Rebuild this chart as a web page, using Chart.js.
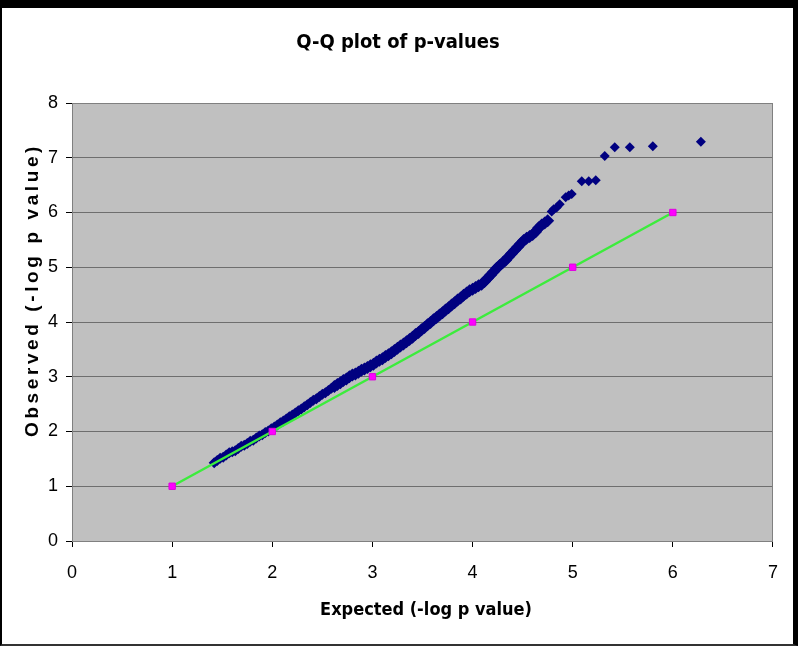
<!DOCTYPE html>
<html lang="en">
<head>
    <meta charset="UTF-8">
    <title>Q-Q plot of p-values</title>
    <script src="https://cdn.jsdelivr.net/npm/chart.js@4.4.0/dist/chart.umd.min.js"></script>
    <style>
        body{
            margin: 0;
            background: #ffffff;
        }
        .frame{
            width: 798px;
            height: 646px;
            box-sizing: border-box;
            border-top: 8px solid #000;
            border-left: 2px solid #000;
            border-right: 5px solid #000;
            border-bottom: 2px solid #333;
            background: #fff;
        }
        .chartCanvas{
            display: block;
            width: 791px !important;
            height: 636px !important;
        }
    </style>
</head>
<body>
    <div class="frame">
        <canvas id="qqchart" class="chartCanvas"></canvas>
    </div>
</body>
<script>
    // observed -log p values
    const obsX = [1.42,1.45,1.48,1.51,1.54,1.57,1.60,1.63,1.66,1.69,1.72,1.75,1.78,1.81,1.84,1.87,1.90,1.93,1.96,1.99,
                  2.02,2.05,2.08,2.11,2.14,2.17,2.20,2.23,2.26,2.29,2.32,2.35,2.38,2.41,2.44,2.47,2.50,2.53,2.56,2.59,
                  2.62,2.65,2.68,2.71,2.74,2.77,2.80,2.83,2.86,2.89,2.92,2.95,2.98,3.01,3.04,3.07,3.10,3.13,3.16,3.19,
                  3.22,3.25,3.28,3.31,3.34,3.37,3.40,3.43,3.46,3.49,3.52,3.55,3.58,3.61,3.64,3.67,3.70,3.73,3.76,3.79,
                  3.82,3.85,3.88,3.91,3.94,3.97,4.00,4.03,4.06,4.09,4.12,4.15,4.18,4.21,4.24,4.27,4.30,4.33,4.36,4.39,
                  4.42,4.45,4.48,4.51,4.54,4.57,4.60,4.63,4.66,4.69,4.72,4.75,4.79,4.81,4.84,4.87,4.93,4.96,4.99,5.09,
                  5.16,5.23,5.32,5.42,5.57,5.80,6.28];
    const obsY = [1.43,1.47,1.51,1.53,1.57,1.61,1.63,1.65,1.69,1.73,1.75,1.78,1.82,1.84,1.88,1.92,1.94,1.98,2.01,2.05,
                  2.08,2.12,2.16,2.19,2.23,2.27,2.30,2.34,2.38,2.41,2.45,2.49,2.53,2.57,2.60,2.64,2.68,2.71,2.75,2.79,
                  2.82,2.86,2.89,2.93,2.96,3.00,3.03,3.05,3.08,3.12,3.14,3.17,3.20,3.23,3.27,3.30,3.33,3.37,3.40,3.44,
                  3.48,3.52,3.56,3.60,3.64,3.68,3.72,3.77,3.81,3.86,3.90,3.95,3.99,4.04,4.08,4.13,4.17,4.22,4.26,4.31,
                  4.35,4.40,4.44,4.49,4.53,4.57,4.60,4.63,4.66,4.69,4.74,4.80,4.86,4.92,4.98,5.03,5.08,5.13,5.19,5.25,
                  5.31,5.37,5.43,5.49,5.53,5.56,5.60,5.65,5.72,5.77,5.81,5.85,6.02,6.06,6.09,6.15,6.28,6.31,6.34,6.57,
                  6.57,6.59,7.03,7.19,7.19,7.21,7.29];

    // expected line (y = x)
    const expX = [1, 2, 3, 4, 5, 6];
    const expY = [1, 2, 3, 4, 5, 6];

    const xTicks = [0, 1, 2, 3, 4, 5, 6, 7];
    const yTicks = [0, 1, 2, 3, 4, 5, 6, 7, 8];

    const chartTitle = 'Q-Q plot of p-values';
    const xTitle = 'Expected (-log p value)';
    const yTitle = 'Observed (-log p value)';

    // gray plot area, border and the three titles
    const decorPlugin = {
        id: 'decor',
        beforeDraw(chart) {
            const a = chart.chartArea;
            const ctx = chart.ctx;
            ctx.save();
            ctx.fillStyle = '#c0c0c0';
            ctx.fillRect(a.left, a.top, a.right - a.left, a.bottom - a.top);
            ctx.restore();
        },
        beforeDatasetsDraw(chart) {
            const a = chart.chartArea;
            const ctx = chart.ctx;
            ctx.save();
            ctx.strokeStyle = '#808080';
            ctx.lineWidth = 1;
            ctx.strokeRect(a.left + 0.5, a.top + 0.5, a.right - a.left - 1, a.bottom - a.top);
            ctx.restore();
        },
        afterDraw(chart) {
            const ctx = chart.ctx;
            ctx.save();
            ctx.fillStyle = '#000';
            ctx.textAlign = 'center';
            ctx.textBaseline = 'middle';
            ctx.font = 'bold 20px "DejaVu Sans Condensed"';
            ctx.fillText(chartTitle, 396, 35);
            ctx.font = 'bold 18px "DejaVu Sans Condensed"';
            ctx.fillText(xTitle, 424, 602);
            // y title, rotated and spaced out
            ctx.translate(31, 282);
            ctx.rotate(-Math.PI / 2);
            ctx.font = 'bold 19px "Liberation Sans"';
            ctx.letterSpacing = '3.6px';
            ctx.fillText(yTitle, 0, 0);
            ctx.restore();
        }
    };

    const config = {
        type: 'scatter',
        data: {
            datasets: [{
                label: 'Expected',
                data: expX.map((x, i) => ({ x: x, y: expY[i] })),
                showLine: true,
                borderColor: '#3cec3c',
                borderWidth: 2.5,
                pointStyle: 'rect',
                pointRadius: 4.5,
                pointBackgroundColor: '#ff00ff',
                pointBorderColor: '#e000e0',
                pointBorderWidth: 1
            }, {
                label: 'Observed',
                data: obsX.map((x, i) => ({ x: x, y: obsY[i] })),
                pointStyle: 'rectRot',
                // dense band drawn a bit fatter than the lone top points
                pointRadius: (c) => (c.raw && c.raw.x < 4.78 ? (c.raw.x < 2.6 ? 5.5 : 6.5) : 5),
                pointBackgroundColor: '#000080',
                pointBorderColor: '#000080',
                pointBorderWidth: 0
            }]
        },
        options: {
            responsive: false,
            animation: false,
            layout: { padding: { top: 95, right: 18, left: 0, bottom: 0 } },
            plugins: {
                legend: { display: false },
                tooltip: { enabled: false }
            },
            scales: {
                x: {
                    type: 'linear',
                    min: 0,
                    max: 7,
                    afterBuildTicks: (s) => { s.ticks = xTicks.map(v => ({ value: v })); },
                    afterFit: (s) => { s.height = 103; },
                    border: { color: '#000', width: 1 },
                    grid: { drawOnChartArea: false, tickLength: 6, color: '#000' },
                    ticks: { color: '#000', padding: 15, font: { family: 'Liberation Sans', size: 18 } }
                },
                y: {
                    type: 'linear',
                    min: 0,
                    max: 8,
                    afterBuildTicks: (s) => { s.ticks = yTicks.map(v => ({ value: v })); },
                    afterFit: (s) => { s.width = 70; },
                    border: { color: '#000', width: 1 },
                    grid: { color: '#6e6e6e', tickColor: '#000', tickLength: 6 },
                    ticks: { color: '#000', padding: 8, font: { family: 'Liberation Sans', size: 18 } }
                }
            }
        },
        plugins: [decorPlugin]
    };

    const canvas = document.getElementById('qqchart');
    canvas.width = 791;
    canvas.height = 636;
    const qqChart = new Chart(canvas, config);
</script>
</html>
